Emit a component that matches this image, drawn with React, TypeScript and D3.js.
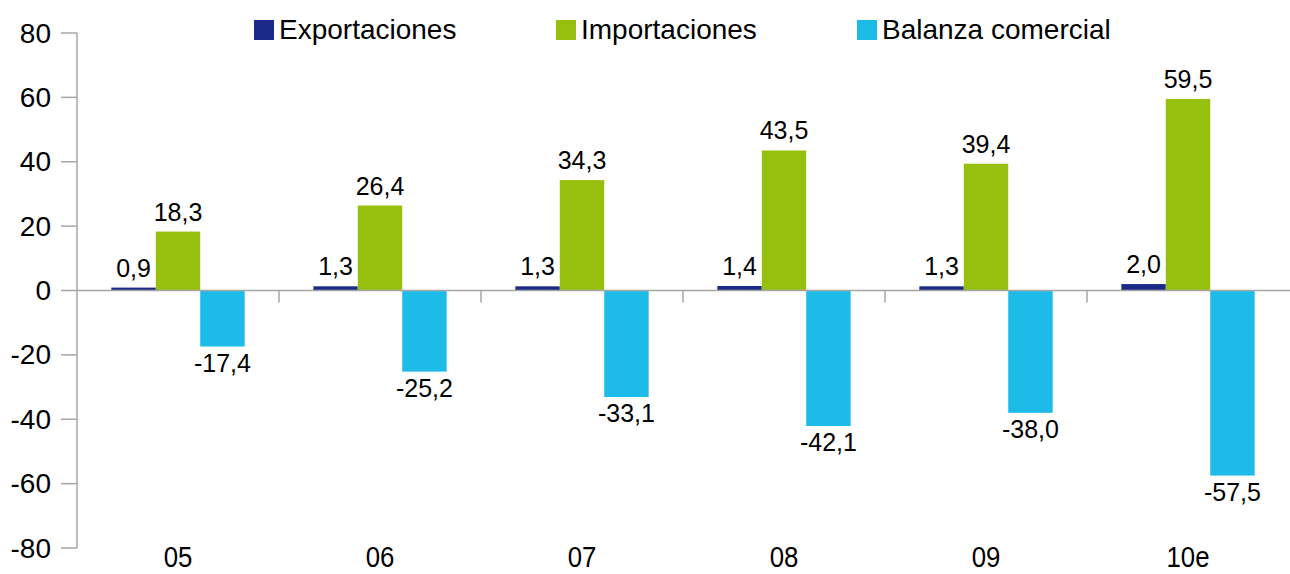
import React from "react";
import * as d3 from "d3";

// Exportaciones / importaciones / balanza, miles de millones
const categories = ["05", "06", "07", "08", "09", "10e"];
const exportaciones = [0.9, 1.3, 1.3, 1.4, 1.3, 2.0];
const importaciones = [18.3, 26.4, 34.3, 43.5, 39.4, 59.5];
const balanza = [-17.4, -25.2, -33.1, -42.1, -38.0, -57.5];
const seriesNames = ["Exportaciones", "Importaciones", "Balanza comercial"];
const yTicks = [80, 60, 40, 20, 0, -20, -40, -60, -80];

const colors = ["#1b2a86", "#97bf0d", "#1dbce8"];
const W = 1290;
const H = 574;
const font = "'Liberation Sans', Arial, sans-serif";
const fmt = (v: number) => v.toFixed(1).replace(".", ",");

export default function App() {
  const series = [exportaciones, importaciones, balanza];
  const y = d3.scaleLinear().domain([-80, 80]).range([548, 33]);
  const x0 = d3.scaleBand<string>().domain(categories).range([77, 1289]).padding(0);
  const bw = x0.bandwidth();
  const groupW = bw * 0.66;
  const x1 = d3
    .scaleBand<string>()
    .domain(seriesNames)
    .range([(bw - groupW) / 2, (bw + groupW) / 2])
    .padding(0);

  return (
    <svg
      width={W}
      height={H}
      style={{ position: "absolute", left: 0, top: 0, background: "#fff" }}
      fontFamily={font}
    >
      {/* legend */}
      {seriesNames.map((s, i) => {
        const lx = [254, 556, 857][i];
        return (
          <g key={s}>
            <rect x={lx} y={20} width={20} height={20} fill={colors[i]} />
            <text x={lx + 25} y={39} fontSize={28} fill="#000">
              {s}
            </text>
          </g>
        );
      })}

      {/* y axis */}
      <line x1={77} x2={77} y1={y(80)} y2={y(-80)} stroke="#a6a6a6" strokeWidth={1.5} />
      {yTicks.map((t) => (
        <g key={t}>
          <line x1={61} x2={77} y1={y(t)} y2={y(t)} stroke="#a6a6a6" strokeWidth={1.5} />
          <text
            x={51}
            y={y(t)}
            fontSize={28}
            textAnchor="end"
            dominantBaseline="central"
            fill="#000"
          >
            {t}
          </text>
        </g>
      ))}

      {/* bars */}
      {categories.map((c, ci) => (
        <g key={c} transform={`translate(${x0(c)},0)`}>
          {series.map((vals, si) => {
            const v = vals[ci];
            const bx = x1(seriesNames[si])!;
            const top = v >= 0 ? y(v) : y(0);
            const h = Math.abs(y(v) - y(0));
            return (
              <g key={si}>
                <rect x={bx} y={top} width={x1.bandwidth()} height={h} fill={colors[si]} />
                <text
                  x={bx + x1.bandwidth() / 2}
                  y={v >= 0 ? y(v) - 11 : y(v) + 25}
                  fontSize={25}
                  textAnchor="middle"
                  fill="#000"
                >
                  {fmt(v)}
                </text>
              </g>
            );
          })}
        </g>
      ))}

      {/* zero line with category ticks */}
      <line x1={77} x2={1290} y1={y(0)} y2={y(0)} stroke="#a6a6a6" strokeWidth={1.5} />
      {categories.slice(1).map((c) => (
        <line
          key={c}
          x1={x0(c)!}
          x2={x0(c)!}
          y1={y(0)}
          y2={y(0) + 12}
          stroke="#a6a6a6"
          strokeWidth={1.5}
        />
      ))}

      {/* category labels */}
      {categories.map((c) => {
        const cx = x0(c)! + bw / 2;
        return (
          <text
            key={c}
            transform={`translate(${cx},567) scale(0.86,1)`}
            fontSize={30}
            textAnchor="middle"
            fill="#000"
          >
            {c}
          </text>
        );
      })}
    </svg>
  );
}
